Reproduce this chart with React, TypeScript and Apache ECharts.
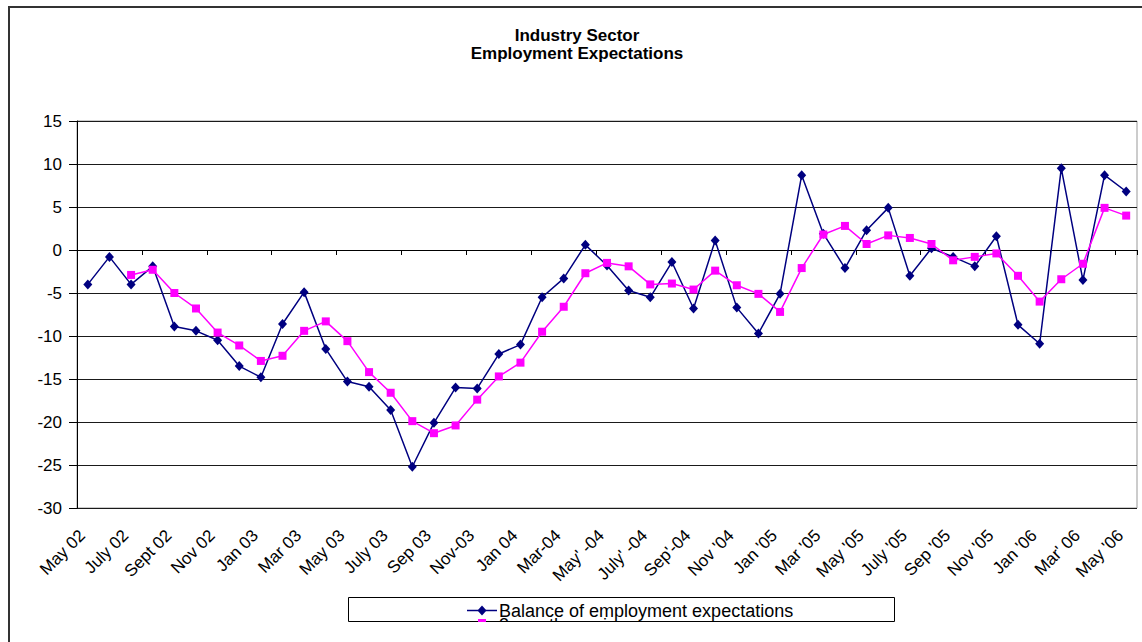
import React, { useEffect, useRef } from "react";
import * as echarts from "echarts";

const months: string[] = [
  "May 02", "June 02", "July 02", "Aug 02", "Sept 02", "Oct 02", "Nov 02", "Dec 02",
  "Jan 03", "Feb 03", "Mar 03", "Apr 03", "May 03", "June 03", "July 03", "Aug 03",
  "Sep 03", "Oct 03", "Nov-03", "Dec 03", "Jan 04", "Feb 04", "Mar-04", "Apr 04",
  "May' -04", "June 04", "July' -04", "Aug 04", "Sep'-04", "Oct 04", "Nov '04", "Dec 04",
  "Jan '05", "Feb 05", "Mar '05", "Apr 05", "May '05", "June 05", "July '05", "Aug 05",
  "Sep '05", "Oct 05", "Nov '05", "Dec 05", "Jan '06", "Feb 06", "Mar' 06", "Apr 06",
  "May '06",
];

const balance: number[] = [
  -4.0, -0.8, -4.0, -1.9, -8.9, -9.4, -10.5, -13.5, -14.8, -8.6,
  -4.9, -11.5, -15.3, -15.9, -18.6, -25.2, -20.1, -16.0, -16.1, -12.1,
  -11.0, -5.5, -3.3, 0.6, -1.8, -4.7, -5.5, -1.4, -6.8, 1.1,
  -6.7, -9.7, -5.1, 8.7, 1.9, -2.1, 2.3, 4.9, -3.0, 0.2,
  -0.8, -1.9, 1.6, -8.7, -10.9, 9.5, -3.5, 8.7, 6.8,
];

const movingAvg: (number | null)[] = [
  null, null,
  -2.9, -2.3, -5.0, -6.8, -9.6, -11.1, -12.9, -12.3, -9.4, -8.3,
  -10.6, -14.2, -16.6, -19.9, -21.3, -20.4, -17.4, -14.7, -13.1, -9.5,
  -6.6, -2.7, -1.5, -1.9, -4.0, -3.9, -4.6, -2.4, -4.1, -5.1,
  -7.2, -2.1, 1.8, 2.8, 0.7, 1.7, 1.4, 0.7, -1.2, -0.8,
  -0.4, -3.0, -6.0, -3.4, -1.6, 4.9, 4.0,
];

const titleLines: string[] = ["Industry Sector", "Employment Expectations"];
const seriesNames: string[] = ["Balance of employment expectations", "3 month moving average"];

const FONT = '"Liberation Sans", Arial, Helvetica, sans-serif';

export default function App() {
  const ref = useRef<HTMLDivElement>(null);
  useEffect(() => {
    if (!ref.current) return;
    const chart = echarts.init(ref.current, null, { renderer: "svg" });
    chart.setOption({
      animation: false,
      grid: {
        left: 77,
        right: 5,
        top: 121,
        bottom: 114,
        show: true,
        borderColor: "#999",
        borderWidth: 1,
        backgroundColor: "transparent",
      },
      xAxis: [
        {
          type: "category",
          data: months,
          boundaryGap: true,
          position: "bottom",
          axisLine: { show: false, onZero: false },
          axisTick: { show: false },
          splitLine: { show: false },
          axisLabel: {
            interval: 1,
            rotate: 45,
            margin: 19,
            padding: [0, 8, 0, 0],
            fontSize: 17,
            fontFamily: FONT,
            color: "#000",
          },
        },
        {
          type: "category",
          data: months,
          boundaryGap: true,
          position: "bottom",
          axisLine: { show: true, onZero: true, onZeroAxisIndex: 0, lineStyle: { color: "#000", width: 1 } },
          axisTick: { show: true, length: 5, lineStyle: { color: "#000", width: 1 } },
          axisLabel: { show: false },
          splitLine: { show: false },
        },
      ],
      yAxis: {
        type: "value",
        min: -30,
        max: 15,
        interval: 5,
        axisLine: { show: true, lineStyle: { color: "#000", width: 1 } },
        axisTick: { show: true, length: 8, lineStyle: { color: "#000", width: 1 } },
        axisLabel: { margin: 15, fontSize: 17, fontFamily: FONT, color: "#000" },
        splitLine: { show: true, lineStyle: { color: "#1a1a1a", width: 1 } },
      },
      series: [
        {
          name: seriesNames[0],
          type: "line",
          xAxisIndex: 0,
          data: balance,
          symbol: "diamond",
          symbolSize: [9, 10],
          lineStyle: { color: "#000080", width: 1.5 },
          itemStyle: { color: "#000080" },
          z: 3,
        },
        {
          name: seriesNames[1],
          type: "line",
          xAxisIndex: 0,
          data: movingAvg,
          symbol: "rect",
          symbolSize: 8,
          lineStyle: { color: "#FF00FF", width: 1.5 },
          itemStyle: { color: "#FF00FF" },
          z: 4,
        },
      ],
      graphic: [
        {
          type: "text",
          x: 577,
          y: 35,
          style: {
            text: titleLines[0],
            font: `bold 17px ${FONT}`,
            fill: "#000",
            textAlign: "center",
            textVerticalAlign: "middle",
          },
        },
        {
          type: "text",
          x: 577,
          y: 53.5,
          style: {
            text: titleLines[1],
            font: `bold 17px ${FONT}`,
            fill: "#000",
            textAlign: "center",
            textVerticalAlign: "middle",
          },
        },
        {
          type: "rect",
          shape: { x: 348.5, y: 597.5, width: 546, height: 24 },
          style: { fill: "#fff", stroke: "#000", lineWidth: 1 },
          z: 10,
        },
        {
          type: "line",
          shape: { x1: 467, y1: 610.5, x2: 497, y2: 610.5 },
          style: { stroke: "#000080", lineWidth: 1.5 },
          z: 11,
        },
        {
          type: "polygon",
          shape: { points: [[482, 605.5], [486.5, 610.5], [482, 615.5], [477.5, 610.5]] },
          style: { fill: "#000080" },
          z: 11,
        },
        {
          type: "text",
          x: 499,
          y: 610.5,
          style: {
            text: seriesNames[0],
            font: `18px ${FONT}`,
            fill: "#000",
            textAlign: "left",
            textVerticalAlign: "middle",
          },
          z: 11,
        },
        {
          type: "rect",
          shape: { x: 478, y: 619, width: 8, height: 8 },
          style: { fill: "#FF00FF" },
          z: 11,
        },
        {
          type: "text",
          x: 499,
          y: 624.5,
          style: {
            text: seriesNames[1],
            font: `18px ${FONT}`,
            fill: "#000",
            textAlign: "left",
            textVerticalAlign: "middle",
          },
          z: 11,
        },
      ],
    });
    return () => chart.dispose();
  }, []);

  return (
    <div style={{ position: "fixed", left: 0, top: 0, width: 1142, height: 642, background: "#fff", overflow: "hidden" }}>
      <div
        style={{
          position: "absolute",
          left: 8,
          top: 6,
          width: 1200,
          height: 700,
          borderLeft: "2px solid #333",
          borderTop: "2px solid #333",
          boxSizing: "border-box",
        }}
      />
      <div
        ref={ref}
        style={{ position: "absolute", left: 0, top: 0, width: 1142, height: 622, overflow: "hidden" }}
      />
    </div>
  );
}
